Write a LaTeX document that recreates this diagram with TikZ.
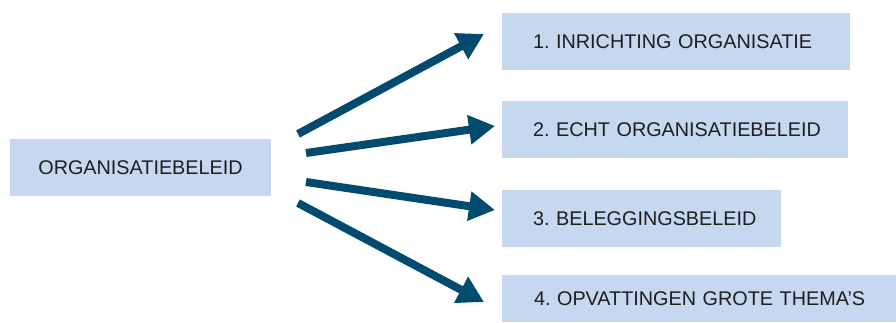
\documentclass[tikz,border=0pt]{standalone}
\usepackage{fontspec}
\setmainfont{Liberation Sans}
\usetikzlibrary{arrows.meta}
\definecolor{boxfill}{HTML}{C6D8EF}
\definecolor{arrowblue}{HTML}{004B6E}
\definecolor{textdark}{HTML}{1E1E1E}
\begin{document}
\frenchspacing
\begin{tikzpicture}[x=1pt,y=-1pt,
  box/.style={fill=boxfill, draw=none, inner sep=0pt, text=textdark,
    font=\fontsize{19.8}{22}\selectfont},
  bigarrow/.style={draw=arrowblue, line width=8pt,
    -{Triangle[length=26pt,width=28pt]}}]
\useasboundingbox (0,0) rectangle (896,322);
% boxes
\node[box, minimum width=261pt, minimum height=57pt] (src) at (140.5,167.5) {ORGANISATIEBELEID};
\node[box, minimum width=348pt, minimum height=57pt, text width=286pt, align=left] (b1) at (676,41.5) {\mbox{1. INRICHTING ORGANISATIE}};
\node[box, minimum width=346pt, minimum height=57pt, text width=284pt, align=left] (b2) at (675,129.5) {\mbox{2. ECHT ORGANISATIEBELEID}};
\node[box, minimum width=279pt, minimum height=57pt, text width=217pt, align=left] (b3) at (641.5,218.5) {\mbox{3. BELEGGINGSBELEID}};
\node[box, minimum width=394pt, minimum height=47pt, text width=330pt, align=left] (b4) at (699,298.5) {\mbox{4. OPVATTINGEN GROTE THEMA'S}};
% arrow end points
\coordinate (s1) at (298,134);
\coordinate (t1) at (484,34);
\coordinate (s2) at (306,153);
\coordinate (t2) at (495,126);
\coordinate (s3) at (306,182);
\coordinate (t3) at (495,210);
\coordinate (s4) at (298,203);
\coordinate (t4) at (484,302);
\draw[bigarrow] (s1) -- (t1);
\draw[bigarrow] (s2) -- (t2);
\draw[bigarrow] (s3) -- (t3);
\draw[bigarrow] (s4) -- (t4);
\end{tikzpicture}
\end{document}
